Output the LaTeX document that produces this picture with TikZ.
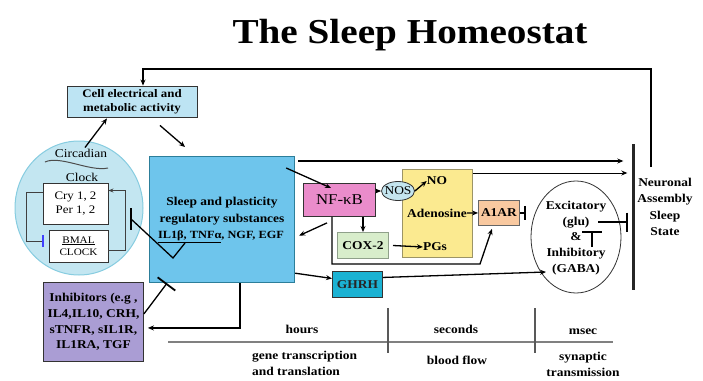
\documentclass[tikz,border=0pt]{standalone}
\usepackage{fontspec}
\setmainfont{Liberation Serif}[FakeStretch=1.12]
\usetikzlibrary{arrows.meta,calc,shapes.geometric}

\definecolor{cellblue}{HTML}{BDE4F3}
\definecolor{clockblue}{HTML}{C3E6F1}
\definecolor{clockedge}{HTML}{86CCE0}
\definecolor{sleepblue}{HTML}{6EC5EC}
\definecolor{sleepedge}{HTML}{2C7E9A}
\definecolor{nfpink}{HTML}{EA8CCB}
\definecolor{nosblue}{HTML}{C4E5EF}
\definecolor{yellowbox}{HTML}{FBEA90}
\definecolor{yellowedge}{HTML}{9C9466}
\definecolor{coxgreen}{HTML}{D8EDCB}
\definecolor{coxedge}{HTML}{8FA08A}
\definecolor{aorange}{HTML}{F9C9A0}
\definecolor{ghrhteal}{HTML}{1BB2D3}
\definecolor{inhpurple}{HTML}{AA9DD4}
\definecolor{axisgray}{HTML}{808080}

\begin{document}
\begin{tikzpicture}[x=1pt,y=-1pt,
  lbl/.style={font=\fontsize{12}{15}\selectfont\bfseries, align=center, inner sep=0pt},
  plain/.style={font=\fontsize{12}{14}\selectfont, align=center, inner sep=0pt},
  box/.style={draw=black!80, line width=0.9pt, inner sep=0pt},
  arr/.style={line width=1.3pt, -{Stealth[length=6pt,width=5pt]}},
  thinarr/.style={line width=0.8pt, draw=black!75, -{Stealth[length=5pt,width=4pt]}},
  inh/.style={line width=1.3pt, -{Bar[width=#1,line width=1.8pt]}},
  inh/.default=16pt,
]
\useasboundingbox (0,0) rectangle (703,380);

% title
\node[font=\fontsize{35}{40}\selectfont\bfseries, anchor=base, inner sep=0] (title) at (410,43) {The Sleep Homeostat};

% cellular activity
\node[box, fill=cellblue, minimum width=130pt, minimum height=31pt,
      font=\fontsize{11.5}{13.5}\selectfont\bfseries, align=center] (cell) at (132,101.5)
      {Cell electrical and\\metabolic activity};

% circadian clock
\node[ellipse, draw=clockedge, fill=clockblue, line width=1pt,
      minimum width=128pt, minimum height=134pt, inner sep=0] (clock) at (79,208) {};
\node[plain] (circ) at (81,153) {Circadian};
\draw[line width=1pt, black!70] (45,162) .. controls (60,155) and (90,172) .. (108,168);
\node[plain] (clk) at (82,177) {Clock};
\node[box, fill=white, minimum width=65pt, minimum height=41pt,
      font=\fontsize{11.5}{14}\selectfont, align=center] (cry) at (75.5,203.5) {Cry 1, 2\\Per 1, 2};
\node[box, fill=white, minimum width=59pt, minimum height=32pt,
      font=\fontsize{10}{12.5}\selectfont, align=center] (bmal) at (78.5,246) {\underline{BMAL}\\CLOCK};
\draw[line width=0.8pt, draw=black!75, -{Bar[width=12pt,line width=1.6pt,color=blue!75]}]
      ($(cry.west)+(0,-11)$) -- ++(-16,0) |- ($(bmal.west)+(-5,-5)$);
\draw[thinarr] ($(bmal.east)+(0,4)$) -- ++(17,0) |- ($(cry.east)+(0,-13)$);

% sleep regulatory substances
\node[draw=sleepedge, fill=sleepblue, line width=1.2pt, minimum width=145pt, minimum height=126pt,
      anchor=north west, inner sep=0] (sleep) at (149,156) {};
\node[lbl, font=\fontsize{12}{17}\selectfont\bfseries] (sltxt) at (222,211.5)
      {Sleep and plasticity\\regulatory substances};
\node[lbl, font=\fontsize{11}{13}\selectfont\bfseries] (sl3) at (221,237)
      {\underline{IL1β, TNFα}, NGF, EGF};
\coordinate (ulmid) at (185,243);
\coordinate (clkbar) at (131,219);

% inhibitors
\node[box, fill=inhpurple, minimum width=100pt, minimum height=79pt, anchor=north west,
      font=\fontsize{12}{15.7}\selectfont\bfseries, align=center] (inhib) at (43,282)
      {Inhibitors (e.g ,\\IL4,IL10, CRH,\\sTNFR, sIL1R,\\IL1RA, TGF};

% molecular cascade
\node[draw=yellowedge, fill=yellowbox, line width=1pt, minimum width=70pt, minimum height=88pt,
      anchor=north west, inner sep=0] (ybox) at (402,169) {};
\node[box, fill=nfpink, minimum width=72pt, minimum height=33pt, anchor=north west,
      font=\fontsize{15}{17}\selectfont] (nfkb) at (303,183) {NF-κB};
\node[ellipse, draw=black!80, line width=0.8pt, fill=nosblue, minimum width=33pt,
      minimum height=19pt, inner sep=0] (nos) at (398,191) {};
\node[plain] (nostxt) at (398,191) {NOS};
\node[lbl] (no) at (437,181) {NO};
\node[lbl] (aden) at (437,213) {Adenosine};
\node[lbl] (pgs) at (435,247) {PGs};
\node[draw=coxedge, fill=coxgreen, line width=1pt, minimum width=51pt, minimum height=26pt,
      anchor=north west, lbl] (cox) at (337,232) {COX-2};
\node[box, draw=black!60, fill=aorange, minimum width=41pt, minimum height=25pt,
      anchor=north west, lbl] (a1ar) at (478,200) {A1AR};
\node[box, fill=ghrhteal, minimum width=50pt, minimum height=26pt, anchor=north west,
      lbl, text=black!85] (ghrh) at (332,271) {GHRH};

% excitatory / inhibitory balance
\node[ellipse, draw=black!80, line width=0.8pt, minimum width=90pt, minimum height=112pt,
      inner sep=0] (ei) at (576,237) {};
\node[lbl, font=\fontsize{12}{15.8}\selectfont\bfseries] (eitxt) at (576,238)
      {Excitatory\\(glu)\\\&\\Inhibitory\\(GABA)};

% neuronal assembly state
\node[fill=black!85, minimum width=3pt, minimum height=146pt, inner sep=0] (nbar) at (633,217) {};
\node[lbl, font=\fontsize{12}{16.3}\selectfont\bfseries] (neur) at (665,207)
      {Neuronal\\Assembly\\Sleep\\State};
\coordinate (fbtop) at (651,167);

% connectors
\draw[arr] (fbtop) -- (651,69) -| ($(cell.north)+(11,0)$);
\draw[arr] ($(clock.north)+(6,7)$) -- ($(cell.south)+(-25,1)$);
\draw[arr] ($(cell.south)+(28,8)$) -- ($(sleep.north west)+(36,-9)$);
\draw[line width=1.3pt] (ulmid) -- (173,258) -- (clkbar);
\draw[line width=2pt] ($(clkbar)+(0,-11)$) -- ($(clkbar)+(0,11)$);
\draw[inh=22pt] ($(inhib.east)+(0,-8)$) -- ($(sleep.south west)+(18,0)$);
\draw[arr] ($(sleep.south west)+(91,0)$) |- ($(inhib.east)+(4,6)$);

\draw[arr] ($(sleep.north east)+(3,5)$) -- ($(nbar.west)+(-8,-56)$);
\draw[arr, line width=1pt] ($(ybox.north east)+(0,4)$) -- ($(nbar.west)+(-4,-44)$);
\draw[arr] ($(sleep.north east)+(-9,12)$) -- ($(nfkb.north west)+(28,5)$);
\draw[arr] ($(nfkb.south west)+(24,6)$) -- ($(sleep.east)+(4,16)$);
\draw[arr] (nfkb.east |- nos.west) -- (nos.west);
\draw[arr] (nos.east) -- (no.west);
\draw[arr] (nfkb.south -| cox.north) -- (cox.north);
\draw[arr] ($(cox.east)+(4,0)$) -- (pgs.west);
\draw[arr] (aden.east) -- (a1ar.west);
\draw[inh=14pt] (a1ar.east) -- ++(6,0);
\draw[arr] ($(nfkb.south west)+(29,0)$) |- (480,264) -- ($(a1ar.south)+(-7,3)$);
\draw[arr] ($(sleep.south east)+(0,-10)$) -- ($(ghrh.west)+(0,-6)$);
\draw[arr] ($(ghrh.east)+(0,-7)$) -- ($(ei.center)+(-30,35)$);
\draw[inh=19pt] ($(ei.center)+(22,-15)$) -- ($(ei.center)+(52,-15)$);
\draw[inh=20pt] ($(ei.center)+(16,10)$) -- ($(ei.center)+(16,-6)$);

% time scales
\draw[axisgray, line width=1.5pt] (168,342) -- (613,342);
\draw[black!65, line width=1.2pt] (388,308) -- (388,353);
\draw[black!65, line width=1.2pt] (535,308) -- (535,353);
\node[lbl] (hours) at (302,329) {hours};
\node[lbl] (seconds) at (456,329) {seconds};
\node[lbl] (msec) at (583,332) {msec};
\node[lbl, align=left, anchor=west, font=\fontsize{12}{16}\selectfont\bfseries] (gene) at (252,363)
      {gene transcription\\and translation};
\node[lbl] (blood) at (457,360) {blood flow};
\node[lbl, font=\fontsize{12}{16}\selectfont\bfseries] (syn) at (583,364) {synaptic\\transmission};
\end{tikzpicture}
\end{document}
